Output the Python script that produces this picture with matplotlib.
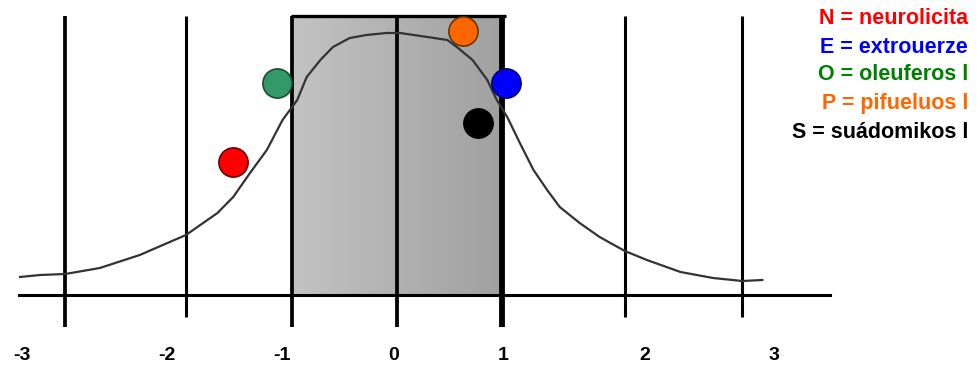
import numpy as np
import matplotlib.pyplot as plt
from matplotlib.colors import LinearSegmentedColormap

# bell curve (x in sd units, y height)
curve_x = [-3.59, -3.40, -3.16, -2.83, -2.45, -2.01, -1.71, -1.56, -1.40, -1.24,
           -1.09, -0.95, -0.86, -0.73, -0.61, -0.45, -0.29, -0.10, 0.03, 0.29,
           0.48, 0.57, 0.72, 0.86, 0.95, 1.05, 1.17, 1.30, 1.43, 1.55,
           1.74, 1.93, 2.17, 2.38, 2.70, 3.01, 3.29, 3.48]
curve_y = [0.18, 0.20, 0.21, 0.27, 0.40, 0.60, 0.82, 0.98, 1.22, 1.45,
           1.75, 1.95, 2.18, 2.35, 2.48, 2.57, 2.60, 2.62, 2.62, 2.58,
           2.55, 2.48, 2.35, 2.15, 1.95, 1.78, 1.52, 1.25, 1.05, 0.88,
           0.72, 0.58, 0.44, 0.35, 0.23, 0.17, 0.14, 0.15]

# grid lines and tick labels
line_x = [-3.16, -2.01, -1.0, 0.0, 1.0, 2.17, 3.29]
line_long = [True, False, True, True, True, False, False]
tick_x = [-3.57, -2.19, -1.10, -0.03, 1.01, 2.36, 3.59]
tick_labels = ['-3', '-2', '-1', '0', '1', '2', '3']

# personality dots
dot_names = ['N', 'E', 'O', 'P', 'S']
dot_x = [-1.56, 1.04, -1.14, 0.63, 0.77]
dot_y = [1.33, 2.12, 2.12, 2.64, 1.72]
dot_colors = ['#ff0000', '#0000ff', '#339966', '#ff6600', '#000000']
dot_edges = ['#660000', '#000066', '#1a4d33', '#663300', '#000000']

legend_texts = ['N = neurolicita', 'E = extrouerze', 'O = oleuferos l',
                'P = pifueluos l', 'S = suádomikos l']
legend_colors = ['#ff0000', '#0000ff', '#008000', '#ff6600', '#000000']
legend_y = [2.77, 2.48, 2.20, 1.92, 1.63]

font = ['Liberation Sans Narrow', 'Liberation Sans', 'DejaVu Sans']

fig = plt.figure(figsize=(9.79, 3.66), dpi=100)
ax = fig.add_axes([0, 0, 1, 1])
ax.set_xlim(-3.781, 5.543)
ax.set_ylim(-0.71, 2.95)
ax.axis('off')

top = 2.79
# shaded box between -1 and 1
box_cmap = LinearSegmentedColormap.from_list('box', ['#c3c3c3', '#a0a0a0'])
grad = np.linspace(0, 1, 256).reshape(1, -1)
ax.imshow(grad, extent=[-1, 1, 0, top], aspect='auto', cmap=box_cmap,
          zorder=0, interpolation='bilinear')
ax.plot([-1.01, 1.04], [top, top], color='black', lw=2.4, zorder=2,
        solid_capstyle='butt')

# axis line
ax.plot([-3.6, 4.12], [0, 0], color='black', lw=2.2, zorder=2)

for x, lng in zip(line_x, line_long):
    bottom = -0.32 if lng else -0.22
    if x == 1.0:
        lw = 4.2
    elif lng:
        lw = 2.7
    else:
        lw = 2.2
    ax.plot([x, x], [bottom, top], color='black', lw=lw, zorder=2,
            solid_capstyle='butt')

for x, lab in zip(tick_x, tick_labels):
    ax.text(x, -0.61, lab, ha='center', va='center', fontsize=14,
            fontweight='bold', family=font)

ax.plot(curve_x, curve_y, color='#333333', lw=1.6, zorder=3)

for x, y, c, e in zip(dot_x, dot_y, dot_colors, dot_edges):
    ax.plot(x, y, 'o', ms=21, mfc=c, mec=e, mew=1.2, zorder=4)

for t, c, y in zip(legend_texts, legend_colors, legend_y):
    ax.text(5.44, y, t, ha='right', va='center', fontsize=15.5,
            fontweight='bold', color=c, family=font)

fig.savefig('out.png', dpi=100)
